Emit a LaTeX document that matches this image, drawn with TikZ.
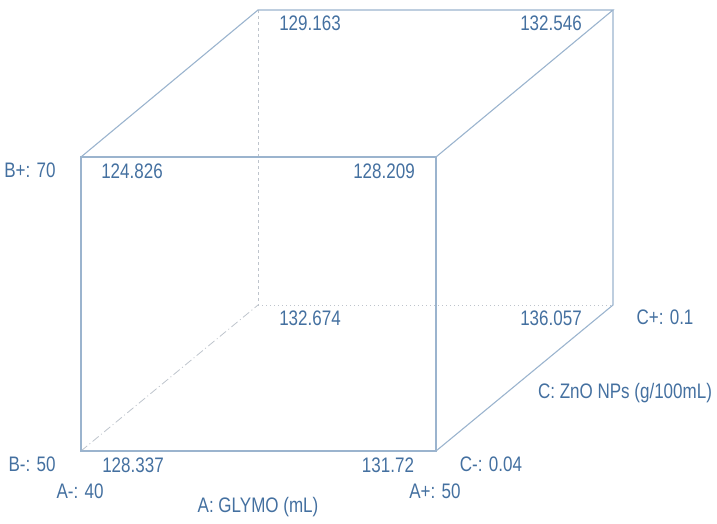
\documentclass[tikz,border=0pt]{standalone}
\usepackage{fontspec}
\setmainfont{Liberation Sans}
\definecolor{txtblue}{RGB}{68,112,160}
\definecolor{edge}{RGB}{155,180,206}
\definecolor{hidden}{RGB}{190,196,204}
\newcommand{\sq}[1]{\scalebox{0.81}[1]{#1}}
\begin{document}
\begin{tikzpicture}[x=1pt,y=-1pt,
  lbl/.style={text=txtblue,inner sep=0pt,anchor=base,font=\fontsize{21}{23}\selectfont},
  solidedge/.style={draw=edge,line width=1.1pt},
  hiddenedge/.style={draw=hidden,line width=0.8pt}]
\useasboundingbox (0,0) rectangle (717,524);
% cube corners
\coordinate (FTL) at (81,157);
\coordinate (FTR) at (436,157);
\coordinate (FBL) at (81,451);
\coordinate (FBR) at (436,451);
\coordinate (BTL) at (258,10);
\coordinate (BTR) at (613,10);
\coordinate (BBL) at (258,305);
\coordinate (BBR) at (613,305);
% hidden edges
\draw[hiddenedge,dash pattern=on 3pt off 3pt] (BTL) -- (BBL);
\draw[hiddenedge,dash pattern=on 1pt off 3pt] (BBL) -- (BBR);
\draw[hiddenedge,dash pattern=on 8pt off 3pt on 1pt off 3pt] (FBL) -- (BBL);
% visible edges
\draw[solidedge] (FTL) -- (FTR) -- (FBR) -- (FBL) -- cycle;
\draw[solidedge] (FTL) -- (BTL) -- (BTR) -- (FTR);
\draw[solidedge] (BTR) -- (BBR) -- (FBR);
% corner values
\node[lbl] (v1) at (310,31) {\sq{129.163}};
\node[lbl] (v2) at (551,31) {\sq{132.546}};
\node[lbl] (v3) at (132,178) {\sq{124.826}};
\node[lbl] (v4) at (384,178) {\sq{128.209}};
\node[lbl] (v5) at (310,325) {\sq{132.674}};
\node[lbl] (v6) at (551,325) {\sq{136.057}};
\node[lbl] (v7) at (133,472) {\sq{128.337}};
\node[lbl] (v8) at (388,472) {\sq{131.72}};
% factor labels
\node[lbl] (bp) at (30,177) {\sq{B+: 70}};
\node[lbl] (bm) at (32,471) {\sq{B-: 50}};
\node[lbl] (am) at (80,498) {\sq{A-: 40}};
\node[lbl] (ap) at (435,498) {\sq{A+: 50}};
\node[lbl] (cm) at (491,471) {\sq{C-: 0.04}};
\node[lbl] (cp) at (665,324) {\sq{C+: 0.1}};
\node[lbl] (ca) at (625,398) {\sq{C: ZnO NPs (g/100mL)}};
\node[lbl] (aa) at (258,512) {\sq{A: GLYMO (mL)}};
\end{tikzpicture}
\end{document}
